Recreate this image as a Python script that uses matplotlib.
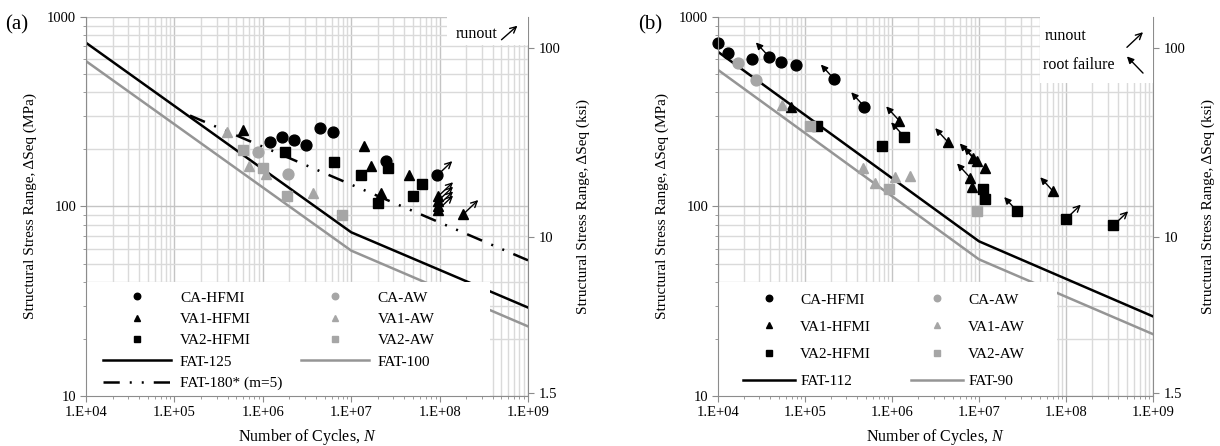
import matplotlib
matplotlib.use("Agg")
import matplotlib.pyplot as plt
import numpy as np
from matplotlib.patches import Rectangle
from matplotlib.ticker import FixedLocator, FuncFormatter, LogLocator, NullLocator


plt.rcParams["font.family"] = ["Liberation Serif", "DejaVu Serif"]
plt.rcParams["mathtext.fontset"] = "custom"
plt.rcParams["mathtext.rm"] = "Liberation Serif"
plt.rcParams["mathtext.it"] = "Liberation Serif:italic"

MPA_PER_KSI = 6.895

BLACK = "#000000"
GRAY = "#a6a6a6"
LINE_GRAY = "#959595"
SPINE = "#8c8c8c"

# ---- panel (a): test results ----
A_CA_HFMI_N = [1.2e6, 1.64e6, 2.28e6, 3.06e6, 4.44e6, 6.2e6, 2.5e7, 9.4e7]
A_CA_HFMI_S = [218, 232, 223, 212, 258, 247, 173, 146]
A_CA_HFMI_RUNOUT = [7]

A_VA1_HFMI_N = [6.0e5, 1.4e7, 1.68e7, 2.16e7, 4.5e7, 9.6e7, 9.6e7, 9.6e7, 9.6e7, 1.85e8]
A_VA1_HFMI_S = [252, 208, 163, 118, 147, 113, 107, 101, 96, 91]
A_VA1_HFMI_RUNOUT = [5, 6, 7, 8, 9]

A_VA2_HFMI_N = [1.78e6, 6.4e6, 1.29e7, 2.63e7, 5.0e7, 6.3e7, 2.0e7]
A_VA2_HFMI_S = [194, 171, 147, 160, 113, 131, 104]

A_CA_AW_N = [8.9e5, 1.95e6]
A_CA_AW_S = [195, 149]

A_VA1_AW_N = [3.9e5, 7.0e5, 1.1e6, 3.7e6]
A_VA1_AW_S = [248, 163, 149, 118]

A_VA2_AW_N = [6.0e5, 1.0e6, 1.86e6, 7.8e6]
A_VA2_AW_S = [198, 160, 113, 90]

# design curves, knot points (N, S)
FAT125_N = [1e4, 1e7, 1e9]
FAT125_S = [731, 73.1, 29.3]
FAT100_N = [1e4, 1e7, 1e9]
FAT100_S = [585, 58.5, 23.3]
FAT180_N = [1.5e5, 1e9]
FAT180_S = [302, 52]

# ---- panel (b): test results ----
B_CA_HFMI_N = [1.0e4, 1.31e4, 2.44e4, 3.85e4, 5.26e4, 7.8e4, 2.15e5, 4.8e5]
B_CA_HFMI_S = [733, 649, 599, 618, 582, 555, 472, 337]
B_CA_HFMI_ROOT = [3, 6, 7]

B_VA1_HFMI_N = [6.85e4, 1.21e6, 4.43e6, 8.5e6, 9.5e6, 1.17e7, 7.9e6, 8.3e6, 7.15e7]
B_VA1_HFMI_S = [335, 284, 218, 181, 173, 160, 142, 127, 120]
B_VA1_HFMI_ROOT = [1, 2, 3, 4, 6, 8]

B_VA2_HFMI_N = [1.38e5, 7.6e5, 1.38e6, 1.11e7, 1.17e7, 2.75e7, 1.0e8, 3.5e8]
B_VA2_HFMI_S = [267, 209, 234, 123, 109, 94.4, 86, 79.4]
B_VA2_HFMI_ROOT = [2, 5]
B_VA2_HFMI_RUNOUT = [6, 7]

B_CA_AW_N = [1.68e4, 2.74e4]
B_CA_AW_S = [575, 466]

B_VA1_AW_N = [5.5e4, 4.6e5, 6.4e5, 1.08e6, 1.61e6]
B_VA1_AW_S = [344, 160, 133, 143, 144]

B_VA2_AW_N = [1.14e5, 9.3e5, 9.5e6]
B_VA2_AW_S = [267, 123, 94.4]

FAT112_N = [1e4, 1e7, 1e9]
FAT112_S = [655, 65.5, 26.3]
FAT90_N = [1e4, 1e7, 1e9]
FAT90_S = [526, 52.6, 21.2]


def exp_label(v, _):
    return f"1.E+{int(round(np.log10(v))):02d}"


def style_axes(ax):
    ax.set_xscale("log")
    ax.set_yscale("log")
    ax.set_xlim(1e4, 1e9)
    ax.set_ylim(10, 1000)
    ax.set_axisbelow(True)
    ax.grid(which="major", color="#c4c4c4", lw=1.0)
    ax.grid(which="minor", color="#dadada", lw=1.0)
    ax.xaxis.set_major_locator(LogLocator(base=10, numticks=10))
    ax.xaxis.set_minor_locator(LogLocator(base=10, subs=np.arange(2, 10), numticks=20))
    ax.xaxis.set_major_formatter(FuncFormatter(exp_label))
    ax.yaxis.set_major_locator(FixedLocator([10, 100, 1000]))
    ax.yaxis.set_minor_locator(LogLocator(base=10, subs=np.arange(2, 10), numticks=20))
    ax.yaxis.set_major_formatter(FuncFormatter(lambda v, _: f"{v:g}"))
    ax.tick_params(which="major", length=4, color=SPINE, labelsize=10.5, pad=3)
    ax.tick_params(which="minor", length=2, color=SPINE)
    ax.tick_params(axis="y", which="minor", labelleft=False)
    for side in ("top", "right"):
        ax.spines[side].set_visible(False)
    for side in ("left", "bottom"):
        ax.spines[side].set_color(SPINE)
        ax.spines[side].set_zorder(6)
    ax.set_xlabel("Number of Cycles, $\\mathit{N}$", fontsize=11.5, labelpad=6)
    ax.set_ylabel("Structural Stress Range, ΔSeq (MPa)", fontsize=11, labelpad=7)

    sec = ax.secondary_yaxis(
        "right", functions=(lambda s: s / MPA_PER_KSI, lambda k: k * MPA_PER_KSI)
    )
    sec.yaxis.set_major_locator(FixedLocator([1.5, 10, 100]))
    sec.yaxis.set_minor_locator(NullLocator())
    sec.yaxis.set_major_formatter(FuncFormatter(lambda v, _: f"{v:g}"))
    sec.tick_params(length=4, color=SPINE, labelsize=10.5)
    sec.spines["right"].set_color(SPINE)
    sec.set_ylabel("Structural Stress Range, ΔSeq (ksi)", fontsize=11, labelpad=12)
    return sec


def points(ax, n, s, marker, color, label, size):
    return ax.plot(n, s, linestyle="none", marker=marker, color=color, ms=size,
                   mec=color, label=label, zorder=3, clip_on=False)[0]


def runout_arrows(ax, n, s, idx):
    for i in idx:
        ax.annotate("", xy=(n[i] * 10 ** 0.17, s[i] * 10 ** 0.075), xytext=(n[i], s[i]),
                    arrowprops=dict(arrowstyle="->", lw=1.0, color=BLACK,
                                    shrinkA=0, shrinkB=0, mutation_scale=11),
                    zorder=2.5)


def root_arrows(ax, n, s, idx):
    for i in idx:
        ax.annotate("", xy=(n[i] / 10 ** 0.15, s[i] * 10 ** 0.075), xytext=(n[i], s[i]),
                    arrowprops=dict(arrowstyle="-|>", lw=1.0, color=BLACK,
                                    shrinkA=0, shrinkB=0, mutation_scale=10),
                    zorder=2.5)


def white_box(ax, x0, y0, x1, y1):
    ax.add_patch(Rectangle((x0, y0), x1 - x0, y1 - y0, transform=ax.transAxes,
                           facecolor="white", edgecolor="none", zorder=4))


fig = plt.figure(figsize=(12.2, 4.46), dpi=100)
ax_a = fig.add_axes([0.0705, 0.1121, 0.3623, 0.8498])
ax_b = fig.add_axes([0.5885, 0.1121, 0.3566, 0.8498])

# ---- (a) ----
style_axes(ax_a)
marker_size = 7.8
h = []
h.append(points(ax_a, A_CA_HFMI_N, A_CA_HFMI_S, "o", BLACK, "CA-HFMI", marker_size))
h.append(points(ax_a, A_VA1_HFMI_N, A_VA1_HFMI_S, "^", BLACK, "VA1-HFMI", marker_size))
h.append(points(ax_a, A_VA2_HFMI_N, A_VA2_HFMI_S, "s", BLACK, "VA2-HFMI", marker_size - 0.5))
h.append(ax_a.plot(FAT125_N, FAT125_S, color=BLACK, lw=1.8, label="FAT-125", zorder=2)[0])
h.append(ax_a.plot(FAT180_N, FAT180_S, color=BLACK, lw=1.8, label="FAT-180* (m=5)",
                   dashes=(6.5, 4, 0.8, 4, 0.8, 4), zorder=2)[0])
h.append(points(ax_a, A_CA_AW_N, A_CA_AW_S, "o", GRAY, "CA-AW", marker_size))
h.append(points(ax_a, A_VA1_AW_N, A_VA1_AW_S, "^", GRAY, "VA1-AW", marker_size))
h.append(points(ax_a, A_VA2_AW_N, A_VA2_AW_S, "s", GRAY, "VA2-AW", marker_size - 0.5))
h.append(ax_a.plot(FAT100_N, FAT100_S, color=LINE_GRAY, lw=1.8, label="FAT-100", zorder=2)[0])
runout_arrows(ax_a, A_CA_HFMI_N, A_CA_HFMI_S, A_CA_HFMI_RUNOUT)
runout_arrows(ax_a, A_VA1_HFMI_N, A_VA1_HFMI_S, A_VA1_HFMI_RUNOUT)

white_box(ax_a, 0, 0, 0.914, 0.30)
leg = ax_a.legend(handles=h, ncol=2, loc="upper left", bbox_to_anchor=(0.038, 0.277),
                  frameon=False, fontsize=11, markerscale=0.6, handlelength=4.45,
                  handletextpad=0.6, columnspacing=1.2, labelspacing=0.5,
                  borderpad=0, borderaxespad=0)
leg.set_zorder(5)

white_box(ax_a, 0.817, 0.926, 1.0, 1.0)
ax_a.text(0.837, 0.955, "runout", transform=ax_a.transAxes, fontsize=11.5,
          va="center", ha="left", zorder=5)
ax_a.annotate("", xy=(0.976, 0.977), xytext=(0.94, 0.94), xycoords="axes fraction",
              textcoords="axes fraction", zorder=5,
              arrowprops=dict(arrowstyle="->", lw=1.0, color=BLACK,
                              shrinkA=0, shrinkB=0, mutation_scale=11))
fig.text(0.004, 0.945, "(a)", fontsize=15, ha="left", va="center")

# ---- (b) ----
style_axes(ax_b)
h = []
h.append(points(ax_b, B_CA_HFMI_N, B_CA_HFMI_S, "o", BLACK, "CA-HFMI", marker_size))
h.append(points(ax_b, B_VA1_HFMI_N, B_VA1_HFMI_S, "^", BLACK, "VA1-HFMI", marker_size))
h.append(points(ax_b, B_VA2_HFMI_N, B_VA2_HFMI_S, "s", BLACK, "VA2-HFMI", marker_size - 0.5))
h.append(ax_b.plot(FAT112_N, FAT112_S, color=BLACK, lw=1.8, label="FAT-112", zorder=2)[0])
h.append(points(ax_b, B_CA_AW_N, B_CA_AW_S, "o", GRAY, "CA-AW", marker_size))
h.append(points(ax_b, B_VA1_AW_N, B_VA1_AW_S, "^", GRAY, "VA1-AW", marker_size))
h.append(points(ax_b, B_VA2_AW_N, B_VA2_AW_S, "s", GRAY, "VA2-AW", marker_size - 0.5))
h.append(ax_b.plot(FAT90_N, FAT90_S, color=LINE_GRAY, lw=1.8, label="FAT-90", zorder=2)[0])
root_arrows(ax_b, B_CA_HFMI_N, B_CA_HFMI_S, B_CA_HFMI_ROOT)
root_arrows(ax_b, B_VA1_HFMI_N, B_VA1_HFMI_S, B_VA1_HFMI_ROOT)
root_arrows(ax_b, B_VA2_HFMI_N, B_VA2_HFMI_S, B_VA2_HFMI_ROOT)
runout_arrows(ax_b, B_VA2_HFMI_N, B_VA2_HFMI_S, B_VA2_HFMI_RUNOUT)

white_box(ax_b, 0, 0, 0.78, 0.30)
leg = ax_b.legend(handles=h, ncol=2, loc="upper left", bbox_to_anchor=(0.057, 0.272),
                  frameon=False, fontsize=11, markerscale=0.6, handlelength=3.4,
                  handletextpad=0.35, columnspacing=2.6, labelspacing=0.88,
                  borderpad=0, borderaxespad=0)
leg.set_zorder(5)

white_box(ax_b, 0.74, 0.826, 1.0, 1.0)
ax_b.text(0.75, 0.95, "runout", transform=ax_b.transAxes, fontsize=11.5,
          va="center", ha="left", zorder=5)
ax_b.text(0.747, 0.873, "root failure", transform=ax_b.transAxes, fontsize=11.5,
          va="center", ha="left", zorder=5)
ax_b.annotate("", xy=(0.977, 0.96), xytext=(0.94, 0.92), xycoords="axes fraction",
              textcoords="axes fraction", zorder=5,
              arrowprops=dict(arrowstyle="->", lw=1.0, color=BLACK,
                              shrinkA=0, shrinkB=0, mutation_scale=11))
ax_b.annotate("", xy=(0.94, 0.896), xytext=(0.977, 0.852), xycoords="axes fraction",
              textcoords="axes fraction", zorder=5,
              arrowprops=dict(arrowstyle="-|>", lw=1.0, color=BLACK,
                              shrinkA=0, shrinkB=0, mutation_scale=10))
fig.text(0.523, 0.945, "(b)", fontsize=15, ha="left", va="center")

fig.savefig("out.png", dpi=100)
